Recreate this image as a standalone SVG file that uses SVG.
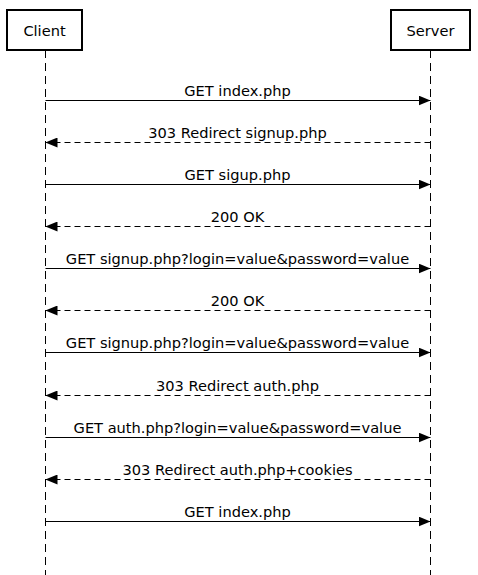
<svg xmlns="http://www.w3.org/2000/svg" width="478" height="575" viewBox="0 0 478 575">
<style>
text{font-family:"DejaVu Sans",sans-serif;font-size:14.6px;fill:#000;text-anchor:middle}
.box{fill:#fff;stroke:#000;stroke-width:2}
.life{stroke:#000;stroke-width:1;stroke-dasharray:8,5;fill:none}
.req{stroke:#000;stroke-width:1;fill:none;marker-end:url(#ah)}
.rsp{stroke:#000;stroke-width:1;fill:none;stroke-dasharray:6,4;marker-end:url(#ah)}
</style>
<defs>
<marker id="ah" viewBox="0 0 12 10" refX="12" refY="5" markerWidth="12" markerHeight="10" markerUnits="userSpaceOnUse" orient="auto">
<path d="M0,0 L12,5 L0,10 Z" fill="#000"/>
</marker>
</defs>
<g id="client">
<line class="life" x1="45.5" y1="50" x2="45.5" y2="575"/>
<rect class="box" x="7" y="10" width="75" height="40"/>
<text x="44.5" y="35.5">Client</text>
</g>
<g id="server">
<line class="life" x1="430.5" y1="50" x2="430.5" y2="575"/>
<rect class="box" x="391" y="10" width="79" height="40"/>
<text x="430.5" y="35.5">Server</text>
</g>
<g id="connectors">
<line class="req" x1="45.5" y1="100.5" x2="430.5" y2="100.5"/>
<text x="237.5" y="95.5">GET index.php</text>
<line class="rsp" x1="430.5" y1="142.5" x2="45.5" y2="142.5"/>
<text x="237.5" y="137.5">303 Redirect signup.php</text>
<line class="req" x1="45.5" y1="184.5" x2="430.5" y2="184.5"/>
<text x="237.5" y="179.5">GET sigup.php</text>
<line class="rsp" x1="430.5" y1="226.5" x2="45.5" y2="226.5"/>
<text x="237.5" y="221.5">200 OK</text>
<line class="req" x1="45.5" y1="268.5" x2="430.5" y2="268.5"/>
<text x="237.5" y="263.5">GET signup.php?login=value&amp;password=value</text>
<line class="rsp" x1="430.5" y1="310.5" x2="45.5" y2="310.5"/>
<text x="237.5" y="305.5">200 OK</text>
<line class="req" x1="45.5" y1="352.5" x2="430.5" y2="352.5"/>
<text x="237.5" y="347.5">GET signup.php?login=value&amp;password=value</text>
<line class="rsp" x1="430.5" y1="395.5" x2="45.5" y2="395.5"/>
<text x="237.5" y="390.5">303 Redirect auth.php</text>
<line class="req" x1="45.5" y1="437.5" x2="430.5" y2="437.5"/>
<text x="237.5" y="432.5">GET auth.php?login=value&amp;password=value</text>
<line class="rsp" x1="430.5" y1="479.5" x2="45.5" y2="479.5"/>
<text x="237.5" y="474.5">303 Redirect auth.php+cookies</text>
<line class="req" x1="45.5" y1="521.5" x2="430.5" y2="521.5"/>
<text x="237.5" y="516.5">GET index.php</text>
</g>
</svg>
